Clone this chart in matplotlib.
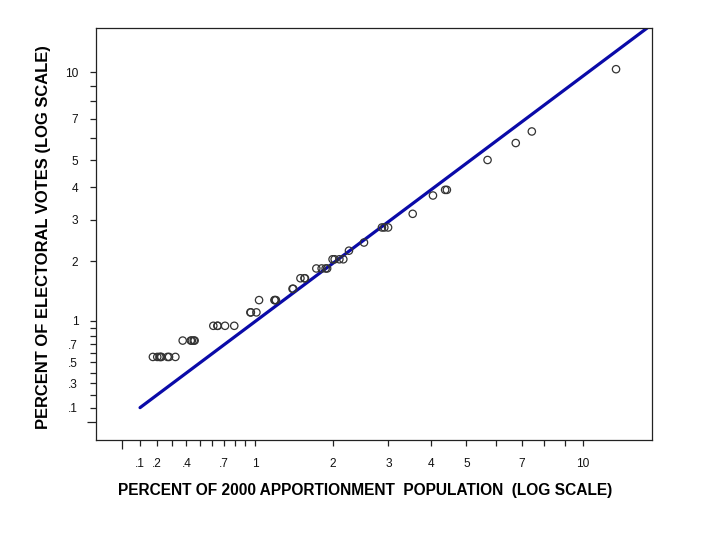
import numpy as np
import matplotlib
matplotlib.use('Agg')
import matplotlib.pyplot as plt

# State share of the 2000 apportionment population (%) and of electoral votes (%)
states = ['AL', 'AK', 'AZ', 'AR', 'CA', 'CO', 'CT', 'DE', 'FL', 'GA',
          'HI', 'ID', 'IL', 'IN', 'IA', 'KS', 'KY', 'LA', 'ME', 'MD',
          'MA', 'MI', 'MN', 'MS', 'MO', 'MT', 'NE', 'NV', 'NH', 'NJ',
          'NM', 'NY', 'NC', 'ND', 'OH', 'OK', 'OR', 'PA', 'RI', 'SC',
          'SD', 'TN', 'TX', 'UT', 'VT', 'VA', 'WA', 'WV', 'WI', 'WY', 'DC']
pop_pct = [1.585, 0.224, 1.827, 0.952, 12.057, 1.532, 1.212, 0.279, 5.696, 2.916,
           0.432, 0.461, 4.420, 2.164, 1.042, 0.957, 1.439, 1.592, 0.454, 1.886,
           2.258, 3.538, 1.750, 1.014, 1.992, 0.322, 0.610, 0.711, 0.440, 2.993,
           0.648, 6.753, 2.867, 0.229, 4.042, 1.229, 1.218, 4.371, 0.373, 1.430,
           0.269, 2.025, 7.428, 0.795, 0.217, 2.523, 2.100, 0.644, 1.909, 0.176, 0.203]
ev_pct = [1.673, 0.558, 1.859, 1.115, 10.223, 1.673, 1.301, 0.558, 5.019, 2.788,
          0.743, 0.743, 3.903, 2.045, 1.301, 1.115, 1.487, 1.673, 0.743, 1.859,
          2.230, 3.160, 1.859, 1.115, 2.045, 0.558, 0.929, 0.929, 0.743, 2.788,
          0.929, 5.762, 2.788, 0.558, 3.717, 1.301, 1.301, 3.903, 0.743, 1.487,
          0.558, 2.045, 6.320, 0.929, 0.558, 2.416, 2.045, 0.929, 1.859, 0.558, 0.558]

# fitted reference line (end points)
line_x = [0.1, 14.35]
line_y = [0.1, 13.89]

x_labels = ['.1', '.2', '.4', '.7', '1', '2', '3', '4', '5', '7', '10']
y_labels = ['.1', '.3', '.5', '.7', '1', '2', '3', '4', '5', '7', '10']


def fwd(v):
    return np.log10(np.maximum(1 + np.asarray(v, dtype=float), 1e-9))


def inv(v):
    return 10 ** np.asarray(v, dtype=float) - 1


plt.rcParams['font.family'] = ['Liberation Sans', 'DejaVu Sans']

fig = plt.figure(figsize=(7.2, 5.4), dpi=100)
ax = fig.add_axes([96 / 720, 1 - 440 / 540, 556 / 720, 412 / 540])

ax.set_xscale('function', functions=(fwd, inv))
ax.set_yscale('function', functions=(fwd, inv))

ax.plot(line_x, line_y, color='#0a0aa8', lw=2.3, solid_capstyle='round', zorder=2)
ax.scatter(pop_pct, ev_pct, s=28, facecolors='none', edgecolors='#333333',
           linewidths=0.9, zorder=3)

ax.set_xlim(-0.125, 14.74)
ax.set_ylim(-0.119, 13.89)

# short ticks with labels, long ticks at 0 / .1 / 1 / 10
small = [0.1, 0.2, 0.3, 0.4, 0.5, 0.6, 0.7, 0.8, 0.9,
         2, 3, 4, 5, 6, 7, 8, 9]
labelled = {float(s): s for s in x_labels}
ax.set_xticks(small + [1, 10])
ax.set_xticklabels([labelled.get(float(t), '') for t in small + [1, 10]])
ax.set_xticks([0, 0.1, 1, 10], minor=True)

ylab = {float(s): s for s in y_labels}
ax.set_yticks(small + [1, 10])
ax.set_yticklabels([ylab.get(float(t), '') for t in small + [1, 10]])
ax.set_yticks([0, 1, 10], minor=True)

ax.tick_params(axis='both', which='major', length=4.3, width=0.9,
               color='#222222', labelsize=8.6, labelcolor='#111111')
ax.tick_params(axis='both', which='minor', length=6.8, width=0.9, color='#222222')
ax.tick_params(axis='x', which='major', pad=8.5)
ax.tick_params(axis='y', which='major', pad=8.5)

for sp in ax.spines.values():
    sp.set_linewidth(0.9)
    sp.set_color('#222222')

fig.text(365 / 720, 1 - 491 / 540,
         'PERCENT OF 2000 APPORTIONMENT  POPULATION  (LOG SCALE)',
         ha='center', va='center', fontsize=11.2, fontweight='bold')
fig.text(44 / 720, 1 - 237 / 540, 'PERCENT OF ELECTORAL VOTES (LOG SCALE)',
         ha='center', va='center', rotation=90, fontsize=11.9, fontweight='bold')

fig.savefig('out.png', dpi=100)
